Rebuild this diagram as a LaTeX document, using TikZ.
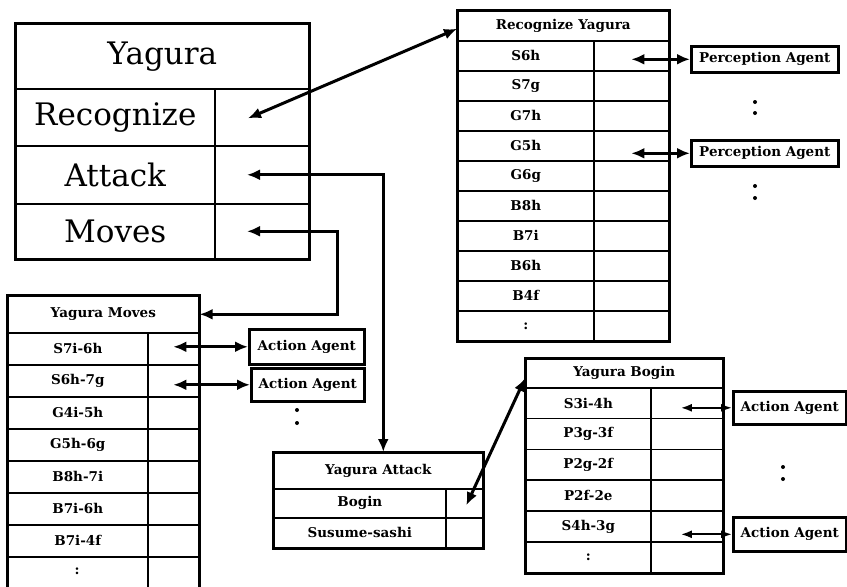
\documentclass[tikz,border=0pt]{standalone}
\usepackage{fontspec}
\setmainfont{DejaVu Serif}
\usetikzlibrary{arrows.meta,calc}
\newcommand\ybigfont{\fontsize{31}{36}\selectfont}
\newcommand\ysmallfont{\fontsize{13.5}{16}\selectfont\bfseries}
\begin{document}
\begin{tikzpicture}[x=1pt,y=-1pt,
  cell/.style={draw,line width=1.6pt,inner sep=0pt,anchor=north west,font=\ysmallfont},
  bigcell/.style={cell,font=\ybigfont},
  sz/.style 2 args={minimum width=#1 pt,minimum height=#2 pt},
  outer/.style={draw,line width=2.8pt},
  agent/.style={draw,line width=2.6pt,inner sep=0pt,anchor=north west,font=\ysmallfont},
  conn/.style={line width=3pt,{Latex[length=13pt,width=11pt]}-{Latex[length=13pt,width=11pt]}},
  connthin/.style={line width=2pt,{Latex[length=11pt,width=8pt]}-{Latex[length=11pt,width=8pt]}},
  dotn/.style={circle,fill,inner sep=0pt,minimum size=4pt}
]
\useasboundingbox (0,0) rectangle (847,587);
\clip (0,0) rectangle (847,587);

% ---------- Yagura main table
\node[bigcell,sz={293}{65}] (yh) at (15,23) {Yagura};
\node[bigcell,sz={199}{57}] (y1l) at (15,88) {Recognize};
\node[cell,sz={94}{57}] (y1r) at (214,88) {};
\node[bigcell,sz={199}{58}] (y2l) at (15,145) {Attack};
\node[cell,sz={94}{58}] (y2r) at (214,145) {};
\node[bigcell,sz={199}{55}] (y3l) at (15,203) {Moves};
\node[cell,sz={94}{55}] (y3r) at (214,203) {};
\draw[outer] (yh.north west) rectangle (y3r.south east);

% ---------- Recognize Yagura
\node[cell,sz={211}{30}] (rh) at (457,10) {Recognize Yagura};
\foreach \t [count=\i] in {S6h,S7g,G7h,G5h,G6g,B8h,B7i,B6h,B4f,:} {
  \node[cell,sz={136}{30}] (rl\i) at (457,{10+30*\i}) {\t};
  \node[cell,sz={75}{30}] (rr\i) at (593,{10+30*\i}) {};
}
\draw[outer] (rh.north west) rectangle (rr10.south east);

% ---------- Perception agents
\node[agent,sz={147}{26}] (pa1) at (690,45) {Perception Agent};
\node[agent,sz={147}{26}] (pa2) at (690,139) {Perception Agent};
\node[dotn] (pd1) at (755,102) {};
\node[dotn] (pd2) at (755,113) {};
\node[dotn] (pd3) at (755,186) {};
\node[dotn] (pd4) at (755,198) {};

% ---------- Yagura Moves
\node[cell,sz={191}{37}] (ymh) at (7,295) {Yagura Moves};
\foreach \t [count=\i] in {S7i-6h,S6h-7g,G4i-5h,G5h-6g,B8h-7i,B7i-6h,B7i-4f} {
  \node[cell,sz={140}{32}] (ml\i) at (7,{300+32*\i}) {\t};
  \node[cell,sz={51}{32}] (mr\i) at (147,{300+32*\i}) {};
}
\node[cell,sz={140}{42}] (ml8) at (7,556) {};
\node[cell,sz={51}{42}] (mr8) at (147,556) {};
\node[font=\ysmallfont] (mcolon) at (77,571) {:};
\draw[outer] (ymh.north west) rectangle (mr8.south east);

% ---------- Action agents (left)
\node[agent,sz={115}{35}] (aa1) at (248,328) {Action Agent};
\node[agent,sz={113}{33}] (aa2) at (250,367) {Action Agent};
\node[dotn] (ad1) at (297,410) {};
\node[dotn] (ad2) at (297,423) {};

% ---------- Yagura Attack
\node[cell,sz={209}{36}] (yah) at (273,452) {Yagura Attack};
\node[cell,sz={172}{29}] (al1) at (273,488) {Bogin};
\node[cell,sz={37}{29}] (ar1) at (445,488) {};
\node[cell,sz={172}{30}] (al2) at (273,517) {Susume-sashi};
\node[cell,sz={37}{30}] (ar2) at (445,517) {};
\draw[outer] (yah.north west) rectangle (ar2.south east);

% ---------- Yagura Bogin
\node[cell,sz={197}{29}] (ybh) at (525,358) {Yagura Bogin};
\foreach \t [count=\i] in {S3i-4h,P3g-3f,P2g-2f,P2f-2e,S4h-3g,:} {
  \node[cell,sz={125}{30.83}] (bl\i) at (525,{387+30.83*(\i-1)}) {\t};
  \node[cell,sz={72}{30.83}] (br\i) at (650,{387+30.83*(\i-1)}) {};
}
\draw[outer] (ybh.north west) rectangle (br6.south east);

% ---------- Action agents (right)
\node[agent,sz={113}{33}] (ba1) at (732,390) {Action Agent};
\node[agent,sz={113}{34}] (ba2) at (732,516) {Action Agent};
\node[dotn] (bd1) at (783,467) {};
\node[dotn] (bd2) at (783,479) {};

% ---------- connectors
\draw[conn] ($(y1r.west)+(34,1)$) -- ($(rh.west)+(0,3)$);
\draw[conn] ($(y2r.west)+(33,0)$) -| ($(yah.north)+(5,0)$);
\draw[conn] ($(y3r.west)+(33,0)$) -- ++(90,0) |- (ymh.east);
\draw[conn] (aa1.west -| mr1.center) -- (aa1.west);
\draw[conn] (aa2.west -| mr2.center) -- (aa2.west);
\draw[conn] ($(ar1.center)+(2,2)$) -- ($(ybh.west)+(0,5)$);
\draw[conn] (pa1.west -| rr1.center) -- (pa1.west);
\draw[conn] (pa2.west -| rr4.center) -- (pa2.west);
\draw[connthin] ($(ba1.west -| br1.center)+(-6,0)$) -- (ba1.west);
\draw[connthin] ($(ba2.west -| br5.center)+(-6,0)$) -- (ba2.west);
\end{tikzpicture}
\end{document}
